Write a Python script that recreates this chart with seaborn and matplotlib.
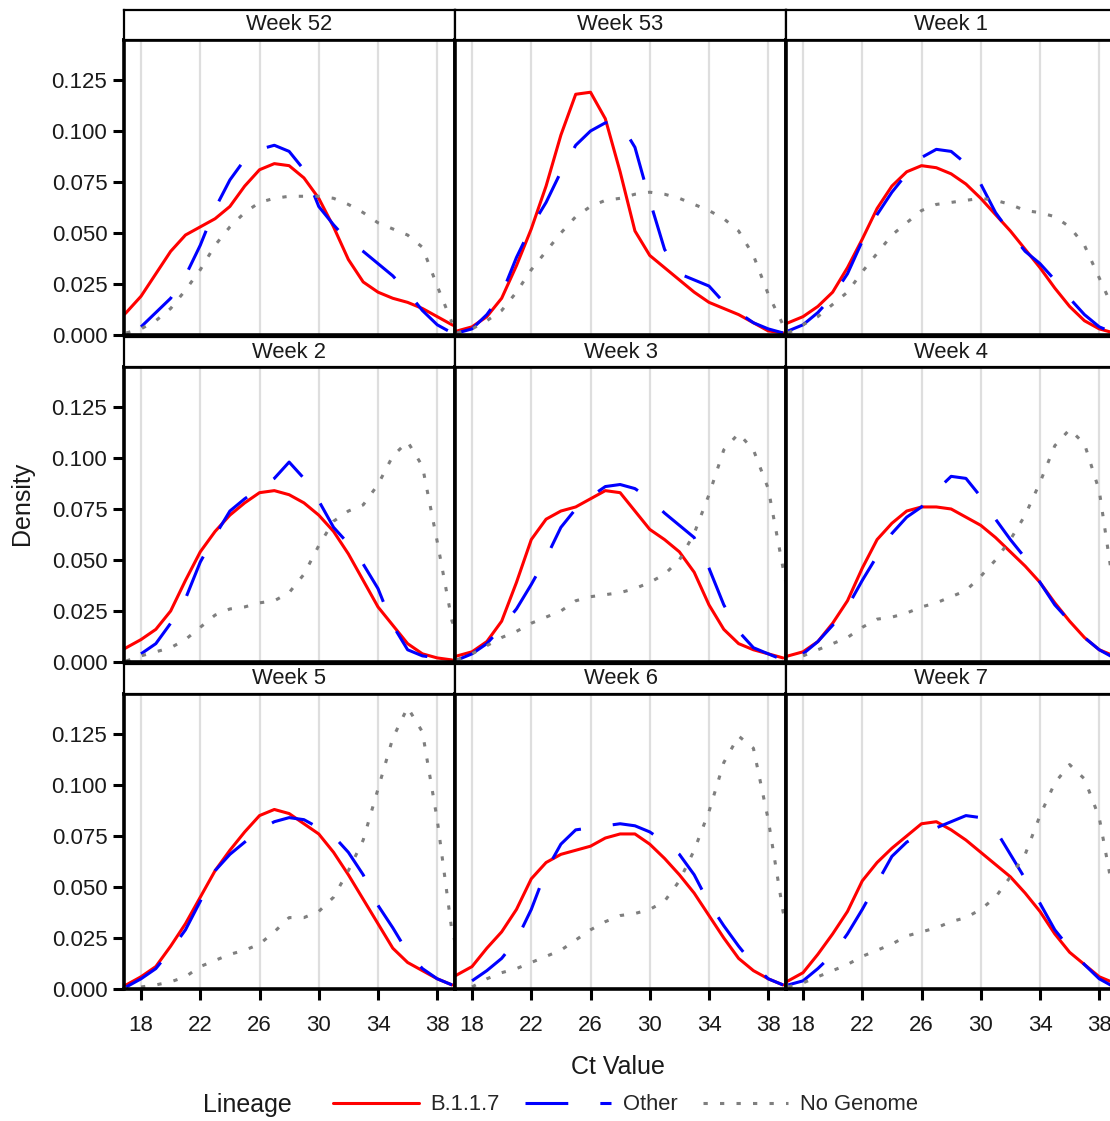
import numpy as np
import pandas as pd
import matplotlib
matplotlib.use("Agg")
import matplotlib.pyplot as plt
from matplotlib.lines import Line2D
import seaborn as sns

# Data: density at Ct = 16..40 (nan = curve absent)
weeks = ['Week 52', 'Week 53', 'Week 1', 'Week 2', 'Week 3', 'Week 4', 'Week 5', 'Week 6', 'Week 7']
lineages = ['B.1.1.7', 'Other', 'No Genome']
ct = list(range(16, 41))
x_ticks = [18, 22, 26, 30, 34, 38]
y_ticks = [0.000, 0.025, 0.050, 0.075, 0.100, 0.125]
na = np.nan

b117_w52 = [0.004, 0.011, 0.019, 0.030, 0.041, 0.049, 0.053, 0.057, 0.063, 0.073, 0.081, 0.084, 0.083,
            0.077, 0.067, 0.053, 0.037, 0.026, 0.021, 0.018, 0.016, 0.013, 0.009, 0.005, 0.002]
other_w52 = [na, na, 0.004, 0.011, 0.018, 0.029, 0.044, 0.062, 0.076, 0.086, 0.091, 0.093, 0.090,
             0.081, 0.063, 0.054, 0.046, 0.041, 0.035, 0.029, 0.021, 0.012, 0.005, 0.001, na]
nogen_w52 = [na, 0.001, 0.003, 0.007, 0.013, 0.022, 0.032, 0.044, 0.053, 0.060, 0.065, 0.067, 0.068,
             0.068, 0.068, 0.067, 0.064, 0.060, 0.055, 0.052, 0.049, 0.043, 0.024, 0.006, na]

b117_w53 = [0.0005, 0.002, 0.004, 0.009, 0.018, 0.034, 0.052, 0.073, 0.098, 0.118, 0.119, 0.106, 0.080,
            0.051, 0.039, 0.033, 0.027, 0.021, 0.016, 0.013, 0.010, 0.006, 0.002, 0.001, na]
other_w53 = [na, 0.001, 0.003, 0.010, 0.020, 0.038, 0.053, 0.065, 0.080, 0.093, 0.100, 0.104, 0.104,
             0.092, 0.066, 0.042, 0.030, 0.027, 0.024, 0.016, 0.011, 0.006, 0.003, 0.001, na]
nogen_w53 = [na, 0.001, 0.003, 0.007, 0.012, 0.021, 0.032, 0.041, 0.050, 0.058, 0.063, 0.066, 0.067,
             0.069, 0.070, 0.069, 0.067, 0.064, 0.061, 0.057, 0.051, 0.039, 0.020, 0.005, na]

b117_w1 = [0.003, 0.006, 0.009, 0.014, 0.021, 0.033, 0.047, 0.062, 0.073, 0.080, 0.083, 0.082, 0.079,
           0.074, 0.067, 0.059, 0.051, 0.042, 0.033, 0.023, 0.014, 0.007, 0.003, 0.001, na]
other_w1 = [na, 0.002, 0.005, 0.011, 0.019, 0.030, 0.046, 0.059, 0.070, 0.079, 0.087, 0.091, 0.090,
            0.084, 0.074, 0.060, 0.050, 0.041, 0.035, 0.027, 0.018, 0.010, 0.004, 0.001, na]
nogen_w1 = [na, 0.001, 0.005, 0.009, 0.015, 0.021, 0.031, 0.040, 0.049, 0.055, 0.061, 0.064, 0.065,
            0.066, 0.067, 0.066, 0.064, 0.061, 0.060, 0.058, 0.053, 0.044, 0.028, 0.012, 0.003]

b117_w2 = [0.003, 0.007, 0.011, 0.016, 0.025, 0.040, 0.054, 0.064, 0.072, 0.078, 0.083, 0.084, 0.082,
           0.078, 0.072, 0.064, 0.053, 0.040, 0.027, 0.018, 0.009, 0.004, 0.002, 0.001, na]
other_w2 = [na, na, 0.004, 0.009, 0.019, 0.031, 0.049, 0.062, 0.074, 0.080, 0.085, 0.090, 0.098,
            0.090, 0.079, 0.066, 0.058, 0.048, 0.036, 0.018, 0.006, 0.003, 0.002, 0.001, na]
nogen_w2 = [na, 0.0005, 0.003, 0.005, 0.007, 0.011, 0.017, 0.023, 0.026, 0.027, 0.029, 0.030, 0.034,
            0.043, 0.057, 0.069, 0.074, 0.077, 0.087, 0.101, 0.108, 0.096, 0.059, 0.020, 0.004]

b117_w3 = [0.001, 0.003, 0.005, 0.010, 0.020, 0.039, 0.060, 0.070, 0.074, 0.076, 0.080, 0.084, 0.083,
           0.074, 0.065, 0.060, 0.054, 0.044, 0.028, 0.016, 0.009, 0.006, 0.004, 0.002, na]
other_w3 = [na, 0.001, 0.004, 0.009, 0.017, 0.026, 0.038, 0.051, 0.066, 0.075, 0.081, 0.086, 0.087,
            0.085, 0.080, 0.073, 0.067, 0.061, 0.046, 0.028, 0.015, 0.007, 0.004, 0.001, na]
nogen_w3 = [na, 0.001, 0.004, 0.008, 0.012, 0.015, 0.019, 0.022, 0.025, 0.030, 0.032, 0.033, 0.034,
            0.036, 0.039, 0.043, 0.050, 0.063, 0.082, 0.104, 0.112, 0.104, 0.085, 0.046, 0.010]

b117_w4 = [0.001, 0.003, 0.005, 0.010, 0.019, 0.030, 0.046, 0.060, 0.068, 0.074, 0.076, 0.076, 0.075,
           0.071, 0.067, 0.061, 0.054, 0.047, 0.039, 0.029, 0.020, 0.012, 0.006, 0.003, na]
other_w4 = [na, na, 0.004, 0.010, 0.018, 0.027, 0.040, 0.052, 0.063, 0.071, 0.076, 0.084, 0.091,
            0.090, 0.081, 0.070, 0.060, 0.051, 0.039, 0.028, 0.020, 0.012, 0.006, 0.002, na]
nogen_w4 = [na, na, 0.003, 0.006, 0.009, 0.012, 0.017, 0.021, 0.022, 0.024, 0.027, 0.029, 0.032,
            0.035, 0.042, 0.050, 0.060, 0.072, 0.088, 0.106, 0.114, 0.107, 0.084, 0.035, 0.008]

b117_w5 = [0.0005, 0.002, 0.006, 0.011, 0.021, 0.032, 0.045, 0.058, 0.068, 0.077, 0.085, 0.088, 0.086,
           0.081, 0.076, 0.067, 0.056, 0.044, 0.032, 0.020, 0.013, 0.009, 0.005, 0.002, na]
other_w5 = [na, 0.001, 0.005, 0.010, 0.019, 0.029, 0.043, 0.058, 0.066, 0.072, 0.078, 0.082, 0.084,
            0.083, 0.079, 0.075, 0.067, 0.056, 0.041, 0.030, 0.018, 0.010, 0.005, 0.002, na]
nogen_w5 = [na, na, 0.001, 0.002, 0.0035, 0.006, 0.011, 0.014, 0.017, 0.019, 0.022, 0.028, 0.035,
            0.035, 0.038, 0.045, 0.058, 0.073, 0.098, 0.123, 0.138, 0.126, 0.083, 0.028, 0.005]

b117_w6 = [0.003, 0.007, 0.011, 0.020, 0.028, 0.039, 0.054, 0.062, 0.066, 0.068, 0.070, 0.074, 0.076,
           0.076, 0.071, 0.064, 0.056, 0.047, 0.036, 0.025, 0.015, 0.009, 0.005, 0.002, na]
other_w6 = [na, na, 0.004, 0.009, 0.015, 0.024, 0.039, 0.058, 0.071, 0.078, 0.079, 0.080, 0.081,
            0.080, 0.077, 0.072, 0.066, 0.056, 0.042, 0.031, 0.021, 0.012, 0.005, 0.002, na]
nogen_w6 = [na, na, 0.001, 0.005, 0.008, 0.010, 0.013, 0.016, 0.019, 0.024, 0.029, 0.033, 0.036,
            0.037, 0.039, 0.043, 0.053, 0.068, 0.087, 0.111, 0.124, 0.118, 0.083, 0.038, 0.006]

b117_w7 = [0.001, 0.004, 0.008, 0.017, 0.027, 0.038, 0.053, 0.062, 0.069, 0.075, 0.081, 0.082, 0.078,
           0.073, 0.067, 0.061, 0.055, 0.047, 0.038, 0.027, 0.018, 0.012, 0.006, 0.003, na]
other_w7 = [na, 0.002, 0.004, 0.010, 0.017, 0.027, 0.039, 0.052, 0.065, 0.072, 0.076, 0.079, 0.082,
            0.085, 0.084, 0.078, 0.066, 0.054, 0.042, 0.029, 0.020, 0.012, 0.005, 0.001, na]
nogen_w7 = [na, 0.001, 0.003, 0.006, 0.009, 0.012, 0.016, 0.019, 0.022, 0.026, 0.028, 0.030, 0.033,
            0.035, 0.039, 0.045, 0.055, 0.066, 0.085, 0.101, 0.110, 0.103, 0.084, 0.045, 0.010]

week_series = [
    (b117_w52, other_w52, nogen_w52), (b117_w53, other_w53, nogen_w53), (b117_w1, other_w1, nogen_w1),
    (b117_w2, other_w2, nogen_w2), (b117_w3, other_w3, nogen_w3), (b117_w4, other_w4, nogen_w4),
    (b117_w5, other_w5, nogen_w5), (b117_w6, other_w6, nogen_w6), (b117_w7, other_w7, nogen_w7),
]

frames = []
for week, series in zip(weeks, week_series):
    for lin, vals in zip(lineages, series):
        frames.append(pd.DataFrame({'Week': week, 'Lineage': lin, 'Ct': ct, 'Density': vals}))
df = pd.concat(frames, ignore_index=True).dropna()

# Style
sns.set_style('white')
plt.rcParams['font.family'] = ['Liberation Sans', 'DejaVu Sans']
plt.rcParams['lines.solid_joinstyle'] = 'round'
plt.rcParams['lines.dash_joinstyle'] = 'round'

palette = {'B.1.1.7': '#FF0000', 'Other': '#0000FF', 'No Genome': '#7F7F7F'}
dashes = {'B.1.1.7': '', 'Other': (14, 10.5), 'No Genome': (1.4, 4.0)}
lw = 2.2

W, H = 1110, 1121
fig = plt.figure(figsize=(W / 100, H / 100), dpi=100)

for i, week in enumerate(weeks):
    r, c = divmod(i, 3)
    left = 124 + 331 * c
    top = 10 + 327 * r
    ax = fig.add_axes([left / W, 1 - (top + 30 + 295) / H, 331 / W, 295 / H])
    sax = fig.add_axes([left / W, 1 - (top + 30) / H, 331 / W, 30 / H])

    sub = df[df['Week'] == week]
    sns.lineplot(data=sub, x='Ct', y='Density', hue='Lineage', style='Lineage',
                 hue_order=lineages, style_order=lineages, palette=palette,
                 dashes=dashes, linewidth=lw, estimator=None, legend=False, ax=ax)

    ax.set_xlim(16.85, 39.2)
    ax.set_ylim(0, 0.1446)
    ax.set_xticks(x_ticks)
    ax.set_yticks(y_ticks)
    ax.set_yticklabels(['{:.3f}'.format(v) for v in y_ticks])
    ax.set_xlabel('')
    ax.set_ylabel('')
    ax.set_axisbelow(True)
    ax.grid(axis='x', color='#DEDEDE', linewidth=1.6)
    ax.grid(axis='y', visible=False)
    for sp in ax.spines.values():
        sp.set_visible(True)
        sp.set_color('black')
        sp.set_linewidth(2.6)
    ax.tick_params(axis='both', length=8, width=2.2, color='black',
                   labelsize=16, labelcolor='#1a1a1a')
    ax.tick_params(axis='y', pad=4)
    ax.tick_params(axis='x', pad=11)
    if c != 0:
        ax.tick_params(axis='y', left=False, labelleft=False)
    else:
        ax.tick_params(axis='y', left=True)
    if r != 2:
        ax.tick_params(axis='x', bottom=False, labelbottom=False)
    else:
        ax.tick_params(axis='x', bottom=True)

    # facet strip
    sax.set_xticks([])
    sax.set_yticks([])
    sax.set_facecolor('white')
    for sp in sax.spines.values():
        sp.set_visible(True)
        sp.set_color('black')
        sp.set_linewidth(1.6)
    sax.text(0.5, 0.5, week, ha='center', va='center', fontsize=15.8,
             color='#1a1a1a', transform=sax.transAxes)

fig.text(22 / W, 1 - 503 / H, 'Density', rotation=90, ha='center', va='center',
         fontsize=18, color='#1a1a1a')
fig.text(618 / W, 1 - 1067 / H, 'Ct Value', ha='center', va='center',
         fontsize=18, color='#1a1a1a')

# legend
fig.text(203 / W, 1 - 1105 / H, 'Lineage', ha='left', va='center',
         fontsize=18, color='#1a1a1a')
handles = [Line2D([], [], color=palette[l], linewidth=lw,
                  linestyle='-' if dashes[l] == '' else (0, dashes[l]))
           for l in lineages]
fig.legend(handles, lineages, loc='center left', bbox_to_anchor=(333 / W, 1 - 1105 / H),
           ncol=3, frameon=False, handlelength=3.9, handletextpad=0.55,
           columnspacing=1.15, fontsize=15.8, borderpad=0, borderaxespad=0)

fig.savefig('out.png', dpi=100)
